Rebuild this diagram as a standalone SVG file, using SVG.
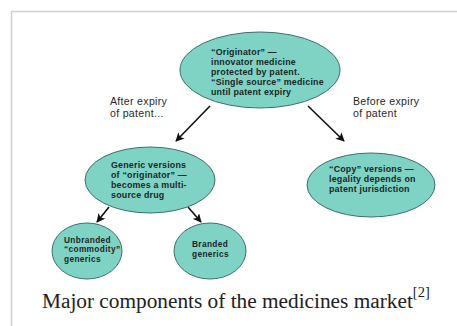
<svg xmlns="http://www.w3.org/2000/svg" width="457" height="326" viewBox="0 0 457 326">
<defs>
<style>
.node{fill:#7fd3c5;stroke:#3f6f68;stroke-width:1}
.nt{font-family:"Liberation Sans",Arial,sans-serif;font-weight:bold;font-size:8.9px;fill:#1c2624;letter-spacing:0.2px}
.st{font-size:8.3px;letter-spacing:0.35px}
.lbl{font-family:"Liberation Sans",Arial,sans-serif;font-size:10.6px;fill:#2a2a2a;letter-spacing:0.3px}
.cap{font-family:"Liberation Serif","Times New Roman",serif;fill:#202122}
.conn line{stroke:#111;stroke-width:1.6}
</style>
<marker id="ah" viewBox="0 0 10 10" refX="9" refY="5" markerWidth="5.5" markerHeight="5.5" orient="auto" markerUnits="strokeWidth">
<path d="M0,0 L10,5 L0,10 L2.5,5 z" fill="#111"/>
</marker>
</defs>
<rect x="0" y="0" width="457" height="326" fill="#fff"/>
<path d="M11.5,326 V11.5 H457" fill="none" stroke="#d0d0d0" stroke-width="1.5"/>
<g class="conn">
<line x1="210" y1="106" x2="176" y2="141" marker-end="url(#ah)"/>
<line x1="308" y1="106" x2="344" y2="141" marker-end="url(#ah)"/>
<line x1="109" y1="207" x2="97" y2="222" marker-end="url(#ah)"/>
<line x1="188" y1="207" x2="201" y2="222" marker-end="url(#ah)"/>
</g>
<g id="lbl-after"><text class="lbl" x="110" y="105">After expiry</text><text class="lbl" x="110" y="117">of patent...</text></g>
<g id="lbl-before"><text class="lbl" x="353" y="105">Before expiry</text><text class="lbl" x="353" y="117">of patent</text></g>
<g id="originator">
<ellipse class="node" cx="260" cy="70" rx="80" ry="38"/>
<text class="nt" x="211" y="55">“Originator” —</text>
<text class="nt" x="211" y="65">innovator medicine</text>
<text class="nt" x="211" y="75">protected by patent.</text>
<text class="nt" x="211" y="85">“Single source” medicine</text>
<text class="nt" x="211" y="95">until patent expiry</text>
</g>
<g id="generic">
<ellipse class="node" cx="150" cy="180" rx="65" ry="33"/>
<text class="nt" x="111" y="168">Generic versions</text>
<text class="nt" x="111" y="178">of “originator” —</text>
<text class="nt" x="111" y="188">becomes a multi-</text>
<text class="nt" x="111" y="198">source drug</text>
</g>
<g id="copy">
<ellipse class="node" cx="371" cy="185" rx="64" ry="32"/>
<text class="nt" x="329" y="172">“Copy” versions —</text>
<text class="nt" x="329" y="182">legality depends on</text>
<text class="nt" x="329" y="192">patent jurisdiction</text>
</g>
<g id="unbranded">
<ellipse class="node" cx="87" cy="251" rx="35" ry="28"/>
<text class="nt st" x="64" y="242.5">Unbranded</text>
<text class="nt st" x="64" y="252">“commodity”</text>
<text class="nt st" x="64" y="261.5">generics</text>
</g>
<g id="branded">
<ellipse class="node" cx="210" cy="251" rx="36" ry="28"/>
<text class="nt st" x="192" y="247">Branded</text>
<text class="nt st" x="192" y="256.5">generics</text>
</g>
<g id="caption">
<text class="cap" x="42" y="308" font-size="21.3">Major components of the medicines market<tspan dy="-11" font-size="14.5">[2]</tspan></text>
</g>
</svg>
